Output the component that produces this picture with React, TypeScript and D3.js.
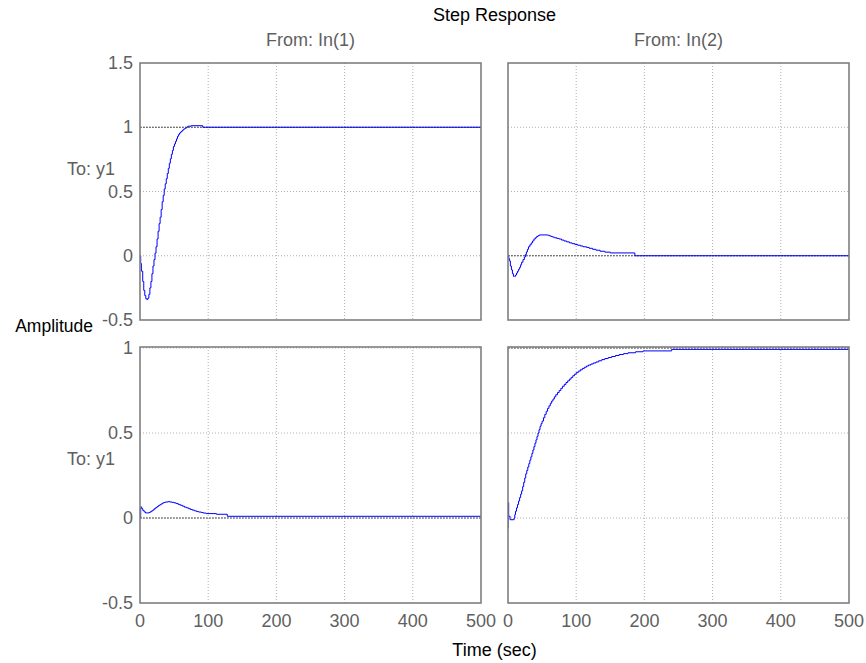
import React from "react";
import * as d3 from "d3";

// ---- data ----
const xTicks = [0, 100, 200, 300, 400, 500];
const yTicksTop = [-0.5, 0, 0.5, 1, 1.5];
const yTicksBottom = [-0.5, 0, 0.5, 1];
const yTickLabelsTop = ["-0.5", "0", "0.5", "1", "1.5"];
const yTickLabelsBottom = ["-0.5", "0", "0.5", "1"];
const xTickLabels = ["0", "100", "200", "300", "400", "500"];

// From In(1) to y1 (top-left)
const respTL: [number, number][] = [
  [0, 0], [1, -0.06], [2, -0.12], [4, -0.2], [5.5, -0.27], [7, -0.31], [8.5, -0.335], [10, -0.34],
  [11.5, -0.33], [13, -0.3], [14.5, -0.25], [16, -0.2], [17.5, -0.14],
  [19, -0.08], [20.5, -0.03], [22, 0.02], [23.5, 0.07], [25, 0.13], [26.5, 0.19], [28, 0.25],
  [29.5, 0.3], [31, 0.36], [32.5, 0.42], [34, 0.47], [35.5, 0.52],
  [37, 0.56], [38.5, 0.6], [40, 0.64], [41.5, 0.68], [43, 0.72], [44.5, 0.755], [46, 0.79],
  [47.5, 0.82], [49, 0.85], [50.5, 0.87], [52, 0.89], [53.5, 0.91],
  [55, 0.93], [56.5, 0.943], [58, 0.955], [59.5, 0.963], [61, 0.97], [62.5, 0.978],
  [64, 0.985], [65.5, 0.99], [67, 0.995], [68.5, 1.0], [70, 1.008],
  [75, 1.012], [92, 1.0], [500, 1.0],
];
// From In(2) to y1 (top-right)
const respTR: [number, number][] = [
  [0, 0], [1, -0.02], [2, -0.04], [3.5, -0.08], [5, -0.11], [6.5, -0.14], [8, -0.16],
  [9.5, -0.16], [11, -0.15], [12.5, -0.135], [14, -0.12], [15.5, -0.105],
  [17, -0.09], [18.5, -0.07], [20, -0.05], [22, -0.03], [24, -0.01], [25.5, 0.01],
  [27, 0.03], [28.5, 0.05], [30, 0.07], [32, 0.085], [34, 0.1], [36, 0.115],
  [38, 0.13], [40, 0.14], [42, 0.15], [44, 0.156], [46, 0.162], [58, 0.16],
  [60.5, 0.155], [63, 0.15], [65.5, 0.145], [68, 0.14], [71.5, 0.135],
  [75, 0.13], [78.5, 0.122], [82, 0.115], [86, 0.108], [90, 0.1], [94, 0.094],
  [98, 0.088], [102, 0.082], [106, 0.076], [110, 0.07], [115, 0.065], [119, 0.058],
  [124, 0.05], [129, 0.043], [135, 0.035], [142, 0.028], [150, 0.022],
  [186, 0.0], [500, 0.0],
];
// From In(1) to y1 (bottom-left)
const respBL: [number, number][] = [
  [0, 0], [1, 0.065], [2.5, 0.055], [4, 0.045], [6, 0.036], [8, 0.03],
  [10.5, 0.03], [13, 0.032], [15, 0.037], [17, 0.042], [19, 0.048],
  [21, 0.055], [23, 0.061], [25, 0.067], [27, 0.073], [29, 0.078], [31, 0.083],
  [33, 0.088], [35, 0.091], [37, 0.094], [41, 0.096], [44, 0.094],
  [47, 0.092], [50, 0.089], [53, 0.085], [56, 0.08], [59, 0.075], [62, 0.07],
  [65, 0.064], [68, 0.06], [71, 0.055], [74, 0.05], [77, 0.046], [80, 0.042],
  [83, 0.038], [86, 0.035], [90, 0.032], [93, 0.029], [97, 0.026], [112, 0.022],
  [128, 0.01], [500, 0.01],
];
// From In(2) to y1 (bottom-right)
const respBR: [number, number][] = [
  [0, -0.06], [0.3, 0.09], [1, 0.01], [3, -0.01], [9, 0.0], [10, 0.02], [11, 0.04],
  [12.5, 0.06], [14, 0.08], [15.5, 0.1], [17, 0.12], [18.5, 0.14], [20, 0.16],
  [21.5, 0.185], [23, 0.21], [24.5, 0.235], [26, 0.26], [27.5, 0.28], [29, 0.3],
  [30.5, 0.32], [32, 0.34], [33.5, 0.36], [35, 0.38], [36.5, 0.4], [38, 0.42],
  [39.5, 0.44], [41, 0.46], [42.5, 0.48], [44, 0.5], [45.5, 0.52], [47, 0.54],
  [48.5, 0.555], [50, 0.57], [52, 0.59], [54, 0.61], [56, 0.628], [58, 0.645],
  [60, 0.66], [62, 0.675], [64, 0.688], [66, 0.7], [68, 0.713], [70, 0.725],
  [72.5, 0.738], [75, 0.75], [77.5, 0.763], [80, 0.775], [82.5, 0.786],
  [85, 0.797], [87.5, 0.807], [90, 0.817], [92.5, 0.827], [95, 0.837],
  [97.5, 0.846], [100, 0.855], [103, 0.864], [106, 0.872], [109, 0.88],
  [112, 0.887], [115, 0.894], [118, 0.9], [121.5, 0.906], [125, 0.912],
  [129, 0.918], [133, 0.925], [137.5, 0.932], [142, 0.938], [147, 0.944],
  [152, 0.95], [157.5, 0.956], [163, 0.962], [169.5, 0.967], [176, 0.972],
  [187, 0.978], [198, 0.983], [240, 0.992], [500, 0.992],
];

const W = 866;
const H = 663;
const FONT = "'Liberation Sans', Arial, Helvetica, sans-serif";
const GRAY_TEXT = "#5f5f5f";
const BORDER = "#7f7f7f";

const colX = [
  [140, 481],
  [508, 849],
];
const rowY = [
  [63, 320],
  [347, 603],
];

const xScales = colX.map(([a, b]) => d3.scaleLinear().domain([0, 500]).range([a, b]));
const yScales = [
  d3.scaleLinear().domain([-0.5, 1.5]).range([rowY[0][1], rowY[0][0]]),
  d3.scaleLinear().domain([-0.5, 1.006]).range([rowY[1][1], rowY[1][0]]),
];

const panels = [
  { r: 0, c: 0, data: respTL, ss: 1 },
  { r: 0, c: 1, data: respTR, ss: 0 },
  { r: 1, c: 0, data: respBL, ss: 0 },
  { r: 1, c: 1, data: respBR, ss: 1 },
];

export default function App() {
  return (
    <svg width={W} height={H} style={{ display: "block", position: "absolute", left: 0, top: 0 }} fontFamily={FONT}>
      <rect x={0} y={0} width={W} height={H} fill="#fff" />
      <defs>
        {panels.map((p, i) => (
          <clipPath id={`clip${i}`} key={i}>
            <rect
              x={colX[p.c][0]}
              y={rowY[p.r][0]}
              width={colX[p.c][1] - colX[p.c][0]}
              height={rowY[p.r][1] - rowY[p.r][0]}
            />
          </clipPath>
        ))}
      </defs>
      {panels.map((p, i) => {
        const xs = xScales[p.c];
        const ys = yScales[p.r];
        const yt = p.r === 0 ? yTicksTop : yTicksBottom;
        const x0 = colX[p.c][0];
        const x1 = colX[p.c][1];
        const y0 = rowY[p.r][0];
        const y1 = rowY[p.r][1];
        const line = d3
          .line<[number, number]>()
          .x((d) => xs(d[0]))
          .y((d) => ys(d[1]))
          .curve(d3.curveStepAfter);
        return (
          <g key={i}>
            {xTicks.slice(1, -1).map((t) => (
              <line key={"gx" + t} x1={xs(t)} x2={xs(t)} y1={y0} y2={y1} stroke="#b0b0b0" strokeWidth={1} strokeDasharray="1,2" />
            ))}
            {yt
              .filter((t) => ys(t) > y0 + 0.5 && ys(t) < y1 - 0.5)
              .map((t) => (
                <line key={"gy" + t} x1={x0} x2={x1} y1={ys(t)} y2={ys(t)} stroke="#b0b0b0" strokeWidth={1} strokeDasharray="1,2" />
              ))}
            <line x1={x0} x2={x1} y1={ys(p.ss)} y2={ys(p.ss)} stroke="#555" strokeWidth={1} strokeDasharray="2,1" />
            <path d={line(p.data) || ""} fill="none" stroke="#0000ff" strokeWidth={1} clipPath={`url(#clip${i})`} />
            <rect x={x0} y={y0} width={x1 - x0} height={y1 - y0} fill="none" stroke={BORDER} strokeWidth={1.6} />
            {p.c === 0 &&
              yt.map((t, k) => (
                <text key={"yl" + t} x={x0 - 7} y={ys(t) + 6} textAnchor="end" fontSize={18} fill={GRAY_TEXT}>
                  {(p.r === 0 ? yTickLabelsTop : yTickLabelsBottom)[k]}
                </text>
              ))}
            {p.r === 1 &&
              xTicks.map((t, k) => (
                <text key={"xl" + t} x={xs(t)} y={627} textAnchor="middle" fontSize={18} fill={GRAY_TEXT}>
                  {xTickLabels[k]}
                </text>
              ))}
          </g>
        );
      })}
      <text x={494.5} y={21} textAnchor="middle" fontSize={18} fill="#000">Step Response</text>
      <text x={(colX[0][0] + colX[0][1]) / 2} y={46} textAnchor="middle" fontSize={18} fill={GRAY_TEXT}>From: In(1)</text>
      <text x={(colX[1][0] + colX[1][1]) / 2} y={46} textAnchor="middle" fontSize={18} fill={GRAY_TEXT}>From: In(2)</text>
      <text x={115} y={175} textAnchor="end" fontSize={18} fill={GRAY_TEXT}>To: y1</text>
      <text x={115} y={465} textAnchor="end" fontSize={18} fill={GRAY_TEXT}>To: y1</text>
      <text x={93} y={332} textAnchor="end" fontSize={17.5} fill="#000">Amplitude</text>
      <text x={494.5} y={656} textAnchor="middle" fontSize={18} fill="#000">Time (sec)</text>
    </svg>
  );
}
